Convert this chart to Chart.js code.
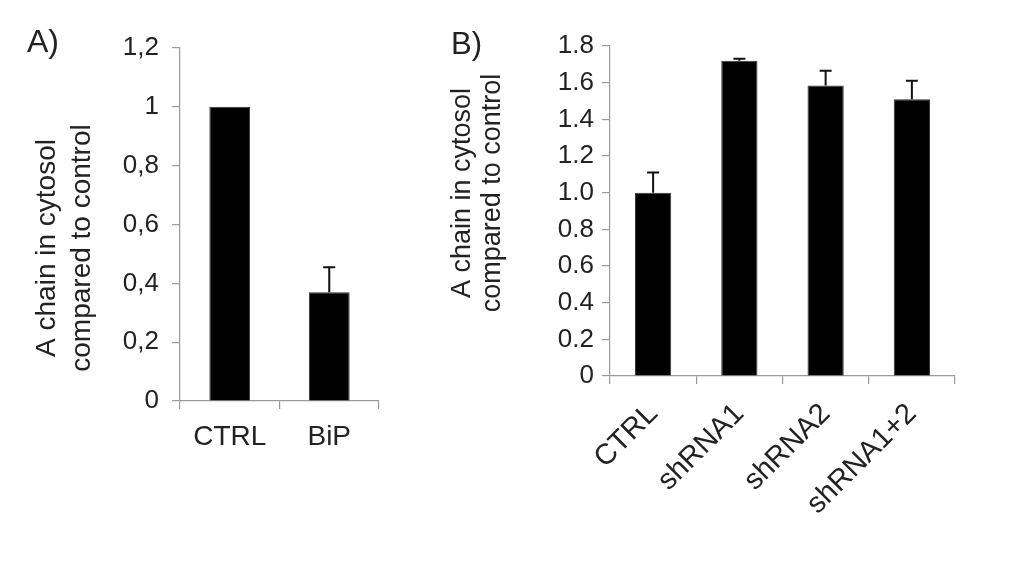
<!DOCTYPE html>
<html>
<head>
<meta charset="utf-8">
<script src="https://cdn.jsdelivr.net/npm/chart.js@4.4.1/dist/chart.umd.min.js"></script>
<style>
  html, body { margin: 0; padding: 0; background: #fff; }
  .panel { position: absolute; top: 0; height: 561px; }
  #wrapA { left: 0; width: 420px; }
  #wrapB { left: 440px; width: 584px; }
</style>
</head>
<body>
<div class="panel" id="wrapA"><canvas id="chartA"></canvas></div>
<div class="panel" id="wrapB"><canvas id="chartB"></canvas></div>
<script>
// Panel A: BiP knockdown
const categoriesA = ['CTRL', 'BiP'];
const valuesA = [1.0, 0.37];
const errorsA = [0, 0.085];
const tickLabelsA = ['0', '0,2', '0,4', '0,6', '0,8', '1', '1,2'];

// Panel B: shRNA
const categoriesB = ['CTRL', 'shRNA1', 'shRNA2', 'shRNA1+2'];
const valuesB = [1.0, 1.72, 1.585, 1.51];
const errorsB = [0.11, 0.01, 0.08, 0.10];
const tickLabelsB = ['0', '0.2', '0.4', '0.6', '0.8', '1.0', '1.2', '1.4', '1.6', '1.8'];

const yTitle = ['A chain in cytosol', 'compared to control'];

const FONT = "'Liberation Sans', Arial, sans-serif";
const TEXT = '#222';
const AXIS = '#9a9a9a';

// upper error whiskers, drawn from the bar scale
function errorBarPlugin(errors) {
  return {
    id: 'errorBars',
    afterDatasetsDraw(chart) {
      const ctx = chart.ctx;
      const y = chart.scales.y;
      const vals = chart.data.datasets[0].data;
      ctx.save();
      ctx.strokeStyle = '#111';
      ctx.lineWidth = 2;
      chart.getDatasetMeta(0).data.forEach((bar, i) => {
        if (!errors[i]) return;
        const top = y.getPixelForValue(vals[i] + errors[i]);
        ctx.beginPath();
        ctx.moveTo(bar.x, bar.y);
        ctx.lineTo(bar.x, top);
        ctx.moveTo(bar.x - 6, top);
        ctx.lineTo(bar.x + 6, top);
        ctx.stroke();
      });
      ctx.restore();
    }
  };
}

// panel letter and the two-line rotated y title
function textPlugin(t) {
  return {
    id: 'panelText',
    afterDraw(chart) {
      const ctx = chart.ctx;
      ctx.save();
      ctx.fillStyle = TEXT;
      ctx.textBaseline = 'middle';
      ctx.textAlign = 'left';
      ctx.font = t.letterSize + 'px ' + FONT;
      ctx.fillText(t.letter, t.letterX, t.letterY);
      ctx.font = t.titleSize + 'px ' + FONT;
      ctx.textAlign = 'center';
      yTitle.forEach((line, i) => {
        ctx.save();
        ctx.translate(t.titleX[i], t.titleY);
        ctx.rotate(-Math.PI / 2);
        ctx.fillText(line, 0, 0);
        ctx.restore();
      });
      ctx.restore();
    }
  };
}

function makeChart(id, cats, vals, errs, tickLabels, o) {
  return new Chart(document.getElementById(id), {
    type: 'bar',
    data: {
      labels: cats,
      datasets: [{
        data: vals,
        backgroundColor: '#000',
        borderColor: '#333',
        borderWidth: 1,
        categoryPercentage: 1,
        barPercentage: o.barPct
      }]
    },
    options: {
      responsive: true,
      maintainAspectRatio: false,
      animation: false,
      layout: { padding: o.padding },
      plugins: { legend: { display: false }, tooltip: { enabled: false } },
      scales: {
        x: {
          offset: true,
          grid: { offset: true, drawOnChartArea: false, tickLength: 8, color: AXIS, lineWidth: 1.2 },
          border: { color: AXIS, width: 1.2 },
          ticks: {
            color: TEXT, font: { family: FONT, size: o.xFont },
            padding: o.xPad, autoSkip: false,
            minRotation: o.rot, maxRotation: o.rot
          },
          afterFit(s) { s.height = o.xHeight; }
        },
        y: {
          min: 0, max: o.max,
          grid: { drawOnChartArea: false, tickLength: 8, color: AXIS, lineWidth: 1.2 },
          border: { color: AXIS, width: 1.2 },
          ticks: {
            stepSize: 0.2, color: TEXT, font: { family: FONT, size: o.yFont }, padding: o.yPad,
            callback: (v, i) => tickLabels[i]
          },
          afterFit(s) { s.width = o.yWidth; }
        }
      }
    },
    plugins: [errorBarPlugin(errs), textPlugin(o.text)]
  });
}

makeChart('chartA', categoriesA, valuesA, errorsA, tickLabelsA, {
  max: 1.2, barPct: 0.41, rot: 0,
  padding: { top: 48, right: 41, bottom: 0, left: 0 },
  xHeight: 160, yWidth: 180, xFont: 28, yFont: 26, xPad: 11, yPad: 13,
  text: { letter: 'A)', letterX: 27, letterY: 43, letterSize: 32,
          titleX: [47, 82], titleY: 248, titleSize: 28 }
});

makeChart('chartB', categoriesB, valuesB, errorsB, tickLabelsB, {
  max: 1.8, barPct: 0.42, rot: 45,
  padding: { top: 46, right: 69, bottom: 0, left: 0 },
  xHeight: 185, yWidth: 170, xFont: 29, yFont: 26, xPad: 13, yPad: 8,
  text: { letter: 'B)', letterX: 11, letterY: 45, letterSize: 31,
          titleX: [23, 53], titleY: 193, titleSize: 27 }
});
</script>
</body>
</html>
